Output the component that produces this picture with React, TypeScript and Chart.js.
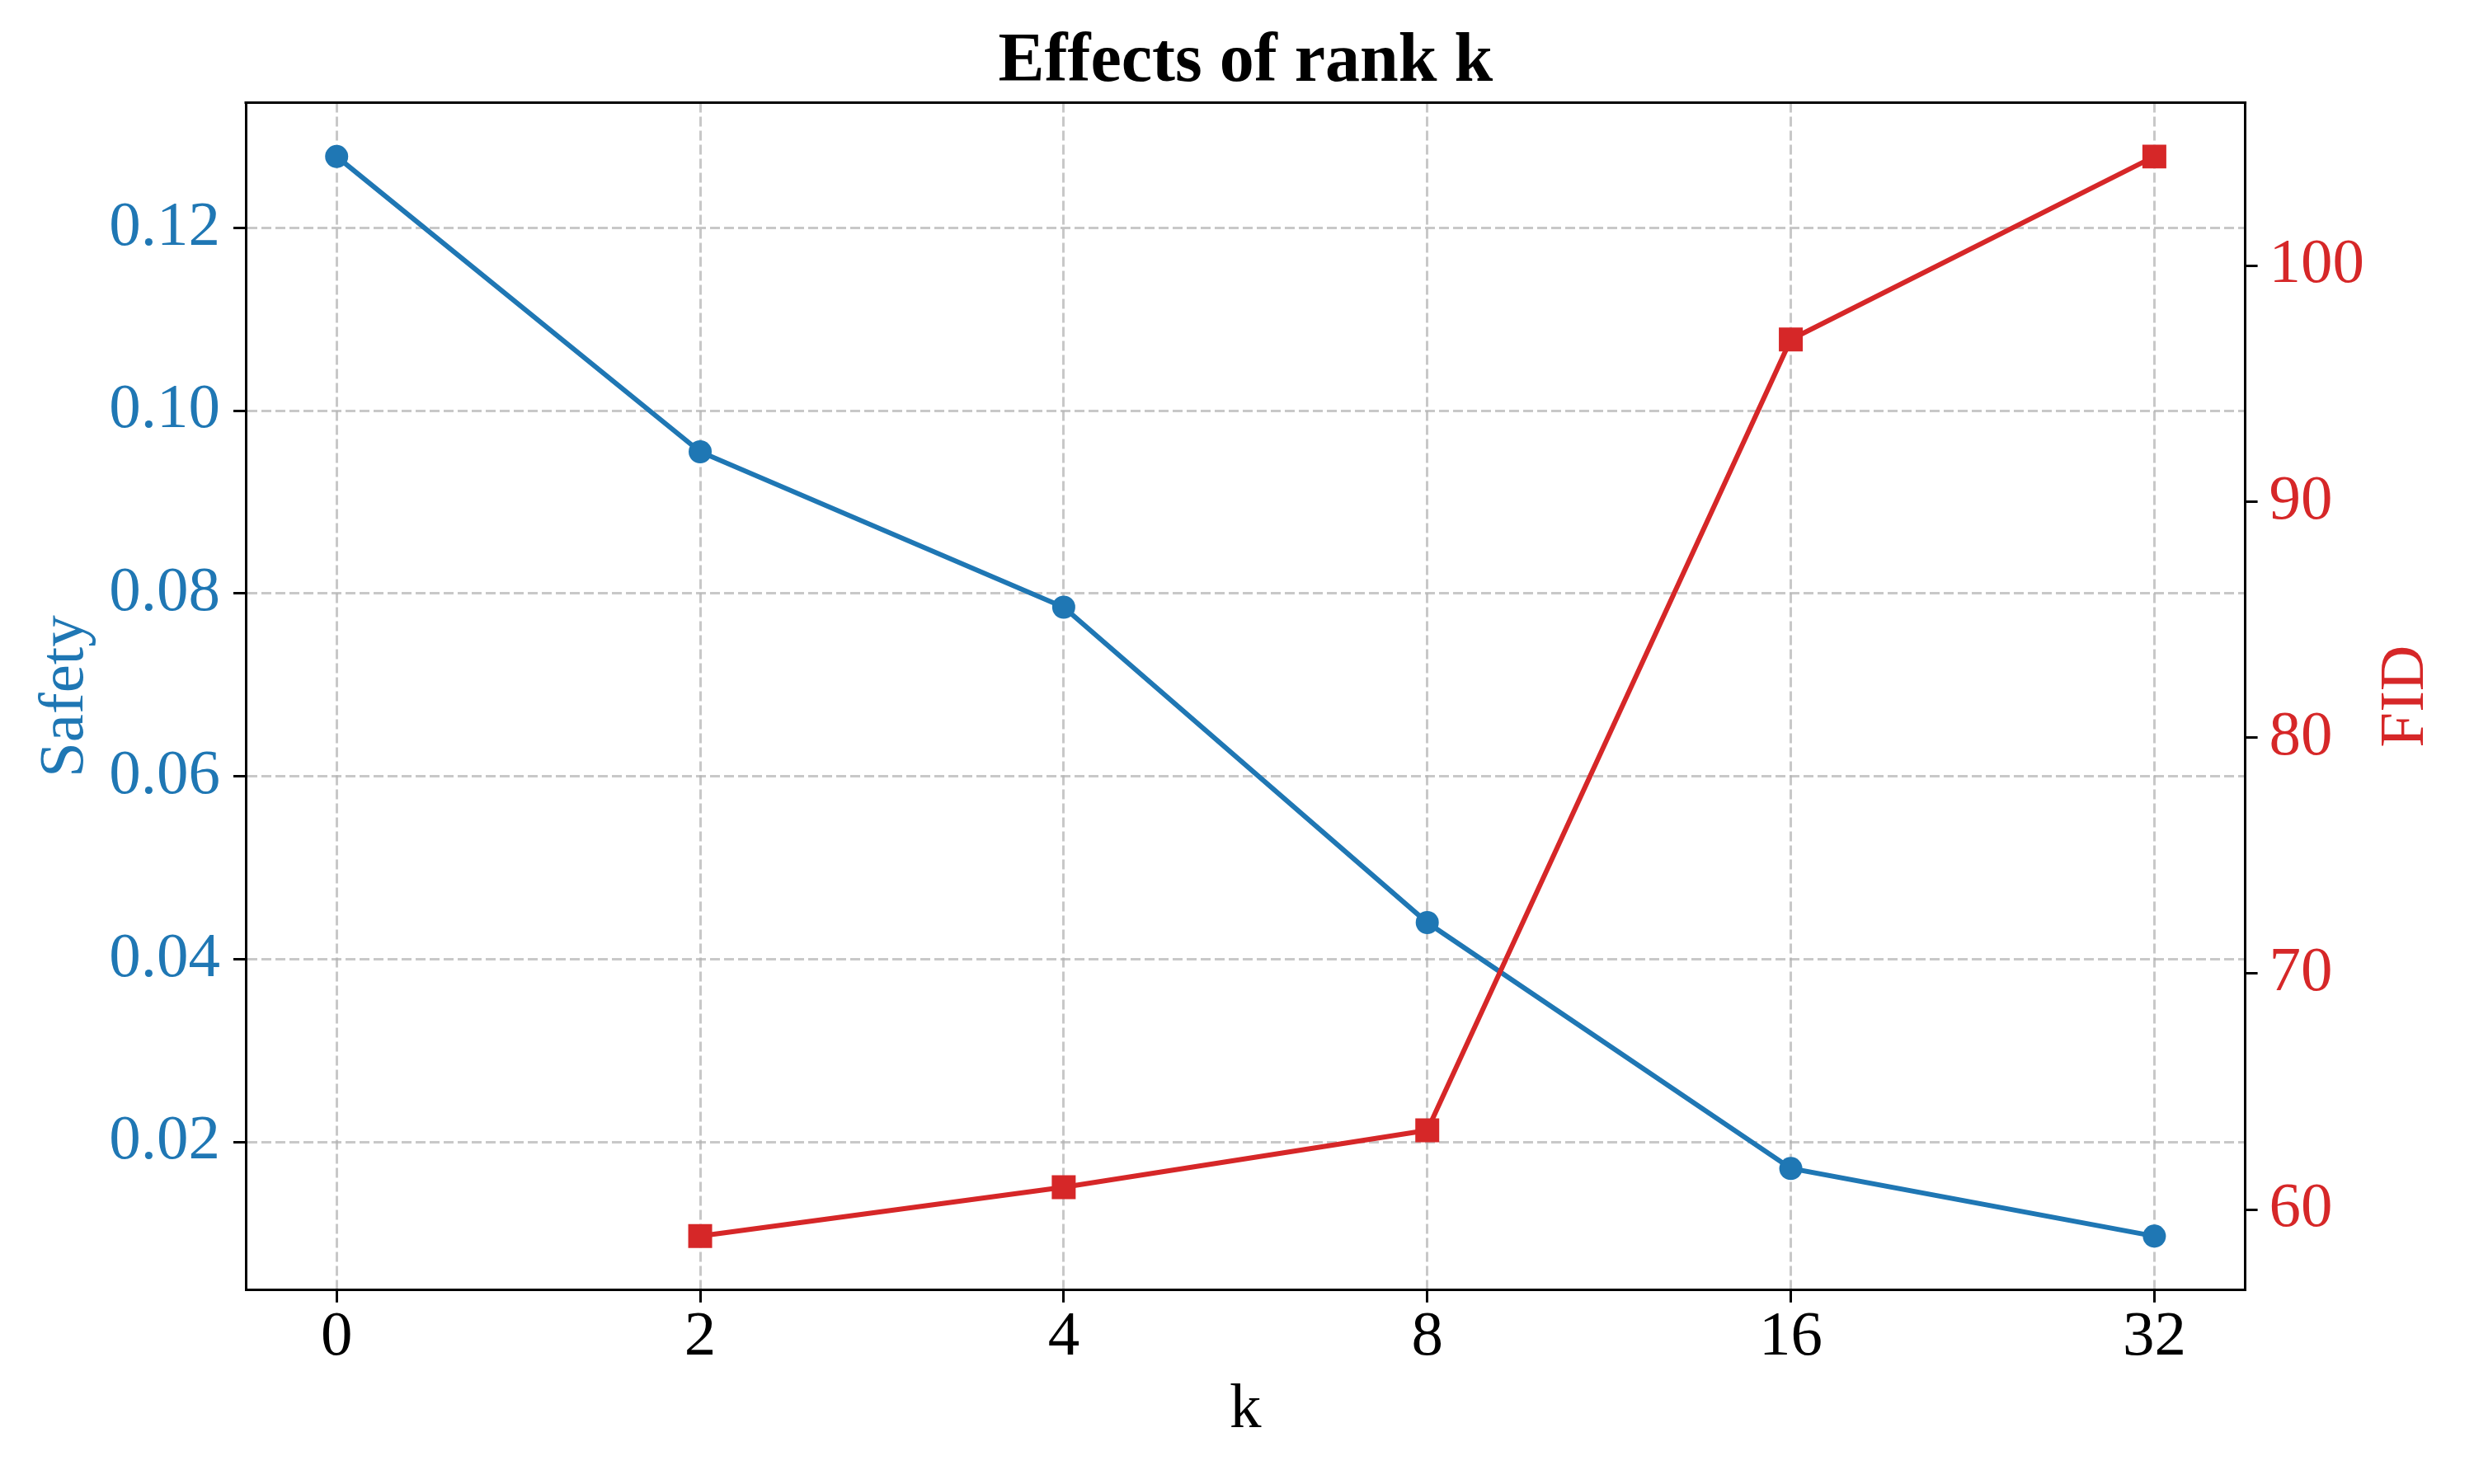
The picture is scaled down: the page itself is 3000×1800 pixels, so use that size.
import React, { useEffect, useRef } from 'react';
import { Chart, registerables } from 'chart.js';

Chart.register(...registerables);

// ---- data ----
const K_LABELS = ['0', '2', '4', '8', '16', '32'];
const SAFETY = [0.1278, 0.0955, 0.0785, 0.044, 0.0171, 0.0097];
const FID = [null, 58.88, 60.95, 63.36, 96.87, 104.62];
const SAFETY_TICKS = [0.02, 0.04, 0.06, 0.08, 0.1, 0.12];
const FID_TICKS = [60, 70, 80, 90, 100];
const TITLE = 'Effects of rank k';
const X_TITLE = 'k';
const Y_LEFT_TITLE = 'Safety';
const Y_RIGHT_TITLE = 'FID';

const BLUE = '#1f77b4';
const RED = '#d62728';
const GRID = 'rgba(176,176,176,0.7)';
const FONT = "'Liberation Serif', 'Times New Roman', serif";

function padRange(vals: (number | null)[]): [number, number] {
  const v = vals.filter((x) => x != null) as number[];
  const lo = Math.min(...v);
  const hi = Math.max(...v);
  const m = (hi - lo) * 0.05;
  return [lo - m, hi + m];
}

const decorPlugin = {
  id: 'decor',
  afterDraw(chart: any) {
    const { ctx, chartArea: a } = chart;
    ctx.save();
    // top spine
    ctx.strokeStyle = '#000';
    ctx.lineWidth = 3;
    ctx.beginPath();
    ctx.moveTo(a.left - 1.5, a.top);
    ctx.lineTo(a.right + 1.5, a.top);
    ctx.stroke();
    // title
    ctx.fillStyle = '#000';
    ctx.font = `bold 84px ${FONT}`;
    ctx.textAlign = 'center';
    ctx.textBaseline = 'alphabetic';
    ctx.fillText(TITLE, (a.left + a.right) / 2, 98);
    // right axis title (reads bottom to top)
    ctx.translate(2938, (a.top + a.bottom) / 2);
    ctx.rotate(-Math.PI / 2);
    ctx.fillStyle = RED;
    ctx.font = `77px ${FONT}`;
    ctx.textAlign = 'center';
    ctx.textBaseline = 'alphabetic';
    ctx.fillText(Y_RIGHT_TITLE, 0, 0);
    ctx.restore();
  },
};

export default function App() {
  const ref = useRef<HTMLCanvasElement | null>(null);

  useEffect(() => {
    if (!ref.current) return;
    const [sMin, sMax] = padRange(SAFETY);
    const [fMin, fMax] = padRange(FID);
    const tickFont = { family: FONT, size: 77, lineHeight: 1 };
    const labelFont = { family: FONT, size: 77, lineHeight: 1.2 };

    const chart = new Chart(ref.current, {
      type: 'line',
      data: {
        datasets: [
          {
            label: 'Safety',
            data: SAFETY.map((v, i) => ({ x: i, y: v })),
            yAxisID: 'y',
            borderColor: BLUE,
            backgroundColor: BLUE,
            borderWidth: 6,
            pointStyle: 'circle',
            pointRadius: 14,
            pointBorderWidth: 0,
            pointBackgroundColor: BLUE,
            tension: 0,
            order: 1,
          },
          {
            label: 'FID',
            data: FID.map((v, i) => ({ x: i, y: v })).filter((p) => p.y != null) as any,
            yAxisID: 'y2',
            borderColor: RED,
            backgroundColor: RED,
            borderWidth: 6,
            pointStyle: 'rect',
            pointRadius: 20.5,
            pointBorderWidth: 0,
            pointBackgroundColor: RED,
            tension: 0,
            order: 0,
          },
        ],
      },
      options: {
        animation: false,
        responsive: false,
        devicePixelRatio: 1,
        layout: { padding: { top: 124.4, left: 0, right: 0, bottom: 0 } },
        plugins: {
          legend: { display: false },
          tooltip: { enabled: false },
          title: { display: false },
        },
        scales: {
          x: {
            type: 'linear',
            position: 'bottom',
            min: -0.25,
            max: 5.25,
            bounds: 'data',
            afterBuildTicks: (s: any) => {
              s.ticks = K_LABELS.map((_, i) => ({ value: i }));
            },
            afterFit: (s: any) => {
              s.height = 235.2;
            },
            ticks: {
              color: '#000',
              font: tickFont,
              padding: 4.7,
              maxRotation: 0,
              autoSkip: false,
              callback: (v: any) => K_LABELS[Math.round(v)] ?? '',
            },
            grid: {
              display: true,
              color: GRID,
              lineWidth: 3,
              drawTicks: true,
              tickLength: 15,
              tickColor: '#000',
              tickWidth: 3,
              tickBorderDash: [],
            },
            border: { display: true, color: '#000', width: 3, dash: [12, 5] },
            title: {
              display: true,
              text: X_TITLE,
              color: '#000',
              font: labelFont,
              padding: { top: 0, bottom: 43 },
            },
          },
          y: {
            type: 'linear',
            position: 'left',
            min: sMin,
            max: sMax,
            bounds: 'data',
            afterBuildTicks: (s: any) => {
              s.ticks = SAFETY_TICKS.map((v) => ({ value: v }));
            },
            afterFit: (s: any) => {
              s.width = 298;
            },
            ticks: {
              color: BLUE,
              font: tickFont,
              padding: 16,
              callback: (v: any) => Number(v).toFixed(2),
            },
            grid: {
              display: true,
              color: GRID,
              lineWidth: 3,
              drawTicks: true,
              tickLength: 15,
              tickColor: '#000',
              tickWidth: 3,
              tickBorderDash: [],
            },
            border: { display: true, color: '#000', width: 3, dash: [12, 5] },
            title: {
              display: true,
              text: Y_LEFT_TITLE,
              color: BLUE,
              font: labelFont,
              padding: { top: 33.8, bottom: 0 },
            },
          },
          y2: {
            type: 'linear',
            position: 'right',
            min: fMin,
            max: fMax,
            bounds: 'data',
            afterBuildTicks: (s: any) => {
              s.ticks = FID_TICKS.map((v) => ({ value: v }));
            },
            afterFit: (s: any) => {
              s.width = 3000 - 2722.6;
            },
            ticks: {
              color: RED,
              font: tickFont,
              padding: 14,
              callback: (v: any) => String(Math.round(Number(v))),
            },
            grid: {
              display: true,
              drawOnChartArea: false,
              drawTicks: true,
              tickLength: 15,
              tickColor: '#000',
              tickWidth: 3,
              color: '#000',
              lineWidth: 3,
            },
            border: { display: true, color: '#000', width: 3 },
          },
        },
      },
      plugins: [decorPlugin],
    } as any);

    return () => chart.destroy();
  }, []);

  return (
    <div style={{ position: 'absolute', left: 0, top: 0, width: 3000, height: 1800, background: '#fff' }}>
      <canvas ref={ref} width={3000} height={1800} style={{ display: 'block', width: 3000, height: 1800 }} />
    </div>
  );
}
